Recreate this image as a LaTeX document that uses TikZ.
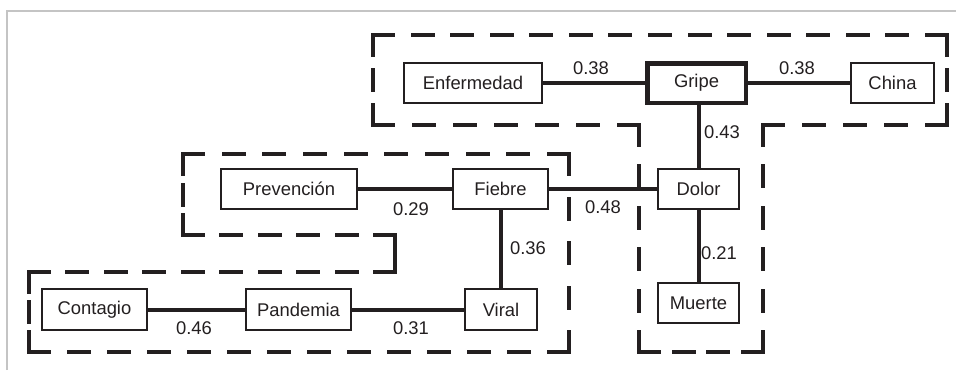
\documentclass[tikz,border=0pt]{standalone}
\usepackage{fontspec}
\setmainfont{Liberation Sans}
\definecolor{ink}{HTML}{231F20}
\definecolor{frame}{HTML}{C4C4C4}
% one side of a cluster outline: dashes of equal length at both ends,
% gaps stretched so that the side starts and ends with a dash
\newcommand\grpside[4]{%
  \pgfmathsetmacro\sidelen{abs(#3-#1)+abs(#4-#2)}%
  \pgfmathtruncatemacro\dashcount{round((\sidelen+20)/40)}%
  \ifnum\dashcount<2
    \draw[grp] (#1,#2) -- (#3,#4);
  \else
    \pgfmathsetmacro\offlen{(\sidelen-20*\dashcount)/(\dashcount-1)}%
    \draw[grp, dash pattern=on 20pt off \offlen pt] (#1,#2) -- (#3,#4);
  \fi}
\begin{document}
\begin{tikzpicture}[x=1pt,y=-1pt,
  txt/.style={text=ink, font=\fontsize{18.4}{20}\selectfont},
  box/.style 2 args={draw=ink, line width=2pt, fill=white, txt, inner sep=0pt,
    minimum width=#1pt, minimum height=#2pt},
  keybox/.style={line width=4.5pt},
  link/.style={draw=ink, line width=4pt},
  lbl/.style={txt, inner sep=0pt},
  grp/.style={draw=ink, line width=4pt, line cap=rect},
  rim/.style={draw=frame, line width=1.2pt}]
\useasboundingbox (0,0) rectangle (956,370);

% thin frame along the top and left
\draw[rim] (7,370) -- (7,11) -- (956,11);

% cluster outlines, one side at a time
\foreach \xa/\ya/\xb/\yb in {373/35/947/35, 947/35/947/125, 947/125/763/125,
    763/125/763/352, 763/352/639/352, 639/352/639/125, 639/125/373/125,
    373/125/373/35}
  \grpside{\xa}{\ya}{\xb}{\yb};
\foreach \xa/\ya/\xb/\yb in {183/154/569/154, 569/154/569/352, 569/352/29/352,
    29/352/29/272, 29/272/395/272, 395/272/395/235, 395/235/183/235,
    183/235/183/154}
  \grpside{\xa}{\ya}{\xb}{\yb};

% terms
\node[box={138}{40}] (enf) at (473,83) {Enfermedad};
\node[box={98.5}{39.5}, keybox] (gripe) at (696.5,83) {Gripe};
\node[box={83}{40}] (china) at (892.5,83) {China};
\node[box={136}{40}] (prev) at (289,189) {Prevención};
\node[box={95}{40}] (fiebre) at (500.5,189) {Fiebre};
\node[box={81}{40}] (dolor) at (698.5,188.5) {\raisebox{-3pt}{Dolor}};
\node[box={105}{41}] (cont) at (94.5,309.5) {Contagio};
\node[box={105}{41}] (pand) at (298.5,309.5) {Pandemia};
\node[box={72}{41}] (viral) at (501,309.5) {Viral};
\node[box={81}{40}] (muerte) at (698.5,303) {Muerte};

% links
\draw[link] (enf) -- (gripe);
\draw[link] (gripe) -- (china);
\draw[link] (gripe.south -| dolor.north) -- (dolor.north);
\draw[link] (prev) -- (prev -| fiebre.west);
\draw[link] (fiebre.east) -- (fiebre.east -| dolor.west);
\draw[link] (fiebre) -- (fiebre |- viral.north);
\draw[link] (dolor) -- (muerte);
\draw[link] (cont) -- (pand);
\draw[link] (pand) -- (viral);

% weights
\node[lbl] (w1) at (591,68) {0.38};
\node[lbl] (w2) at (797,68) {0.38};
\node[lbl] (w3) at (722,132) {0.43};
\node[lbl] (w4) at (411,209) {0.29};
\node[lbl] (w5) at (603,207) {0.48};
\node[lbl] (w6) at (528,248) {0.36};
\node[lbl] (w7) at (719,253) {0.21};
\node[lbl] (w8) at (194,328) {0.46};
\node[lbl] (w9) at (411,328) {0.31};
\end{tikzpicture}
\end{document}
